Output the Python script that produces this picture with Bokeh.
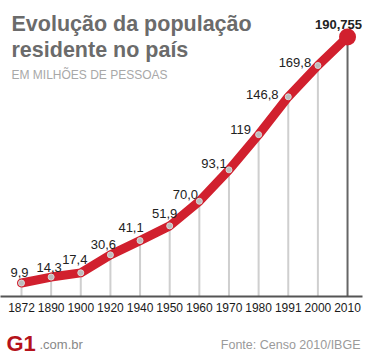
from bokeh.plotting import figure
from bokeh.models import ColumnDataSource, Range1d, FixedTicker, Label
from bokeh.layouts import column
from bokeh.core.properties import value
from bokeh.embed import file_html
from bokeh.resources import INLINE

# ---- data ----
years = ["1872", "1890", "1900", "1920", "1940", "1950", "1960", "1970", "1980", "1991", "2000", "2010"]
population = [9.9, 14.3, 17.4, 30.6, 41.1, 51.9, 70.0, 93.1, 119.0, 146.8, 169.8, 190.755]
value_labels = ["9,9", "14,3", "17,4", "30,6", "41,1", "51,9", "70,0", "93,1", "119", "146,8", "169,8", "190,755"]

# ---- label style offsets (screen px) ----
label_dx = [-2, -2, -6, -7, -9, -5, -14, -15, -18, -26, -23, -9]
label_dy = [11, 10, 13, 10, 13, 12, 7, 6, 5, 2, 3, 13]

idx = list(range(len(years)))
n = len(years)

src = ColumnDataSource(dict(
    x=idx[:-1], y=population[:-1], y0=[0] * (n - 1),
    lab=value_labels[:-1], dx=label_dx[:-1], dy=[-d for d in label_dy[:-1]],
))
src_last = ColumnDataSource(dict(
    x=idx[-1:], y=population[-1:], y0=[0],
    lab=value_labels[-1:], dx=label_dx[-1:], dy=[-d for d in label_dy[-1:]],
))
src_line = ColumnDataSource(dict(x=idx, y=population))

p = figure(width=370, height=320, output_backend="svg", toolbar_location=None,
           x_range=Range1d(-0.7085, 11.505), y_range=Range1d(0, 217.6),
           y_axis_location=None, min_border_left=0, min_border_right=8,
           min_border_top=0, min_border_bottom=24)
p.outline_line_color = None
p.xgrid.visible = False
p.ygrid.visible = False
p.background_fill_color = "white"
p.border_fill_color = "white"

# vertical drop lines
p.segment(x0="x", y0="y0", x1="x", y1="y", source=src, line_color="#cfcfcf", line_width=2)
p.segment(x0="x", y0="y0", x1="x", y1="y", source=src_last, line_color="#666666", line_width=2)

# red line
p.line(x="x", y="y", source=src_line, line_color="#d1202e", line_width=9,
       line_join="round", line_cap="round")
p.scatter(x="x", y="y", source=src, size=6, fill_color="#bdbdbd", line_color="#d9d9d9", line_width=1)
p.scatter(x="x", y="y", source=src_last, size=17, fill_color="#d1202e", line_color=None)

# value labels
p.text(x="x", y="y", text="lab", x_offset="dx", y_offset="dy", source=src,
       text_font=value("Liberation Sans"), text_font_size="13px", text_color="#222222",
       text_align="center", text_baseline="alphabetic")
p.text(x="x", y="y", text="lab", x_offset="dx", y_offset="dy", source=src_last,
       text_font=value("Liberation Sans"), text_font_size="13px", text_color="#222222",
       text_font_style="bold", text_align="center", text_baseline="alphabetic")

# x axis
ax = p.xaxis[0]
ax.ticker = FixedTicker(ticks=idx)
ax.major_label_overrides = {i: y for i, y in zip(idx, years)}
ax.axis_line_color = "#555555"
ax.axis_line_width = 2
ax.major_tick_line_color = None
ax.minor_tick_line_color = None
ax.major_tick_out = 0
ax.major_tick_in = 0
ax.major_label_standoff = 6
ax.major_label_text_font = "Liberation Sans"
ax.major_label_text_font_size = "12px"
ax.major_label_text_color = "#1a1a1a"


def add_label(fig, text, sx, sy, size, color, style="normal", align="left"):
    fig.add_layout(Label(x=sx, y=sy, x_units="screen", y_units="screen", text=text,
                         text_font="Liberation Sans", text_font_size=size, text_color=color,
                         text_font_style=style, text_align=align, text_baseline="alphabetic"))


# titles
add_label(p, "Evolução da população", 11, 273, "21.5px", "#6b6b6b", "bold")
add_label(p, "residente no país", 11, 247, "21.5px", "#6b6b6b", "bold")
add_label(p, "EM MILHÕES DE PESSOAS", 11, 222, "12px", "#a8a8a8")

# footer
f = figure(width=370, height=39, output_backend="svg", toolbar_location=None,
           x_range=Range1d(0, 1), y_range=Range1d(0, 1),
           x_axis_location=None, y_axis_location=None,
           min_border_left=0, min_border_right=0, min_border_top=0, min_border_bottom=0)
f.outline_line_color = None
f.xgrid.visible = False
f.ygrid.visible = False
add_label(f, "G1", 6, 16, "22px", "#b5121b", "bold")
add_label(f, ".com.br", 39, 15, "13px", "#888888")
add_label(f, "Fonte: Censo 2010/IBGE", 360, 15, "12.5px", "#9a9a9a", align="right")

layout = column(p, f, spacing=0)
open("out.html", "w").write(file_html(layout, INLINE))
